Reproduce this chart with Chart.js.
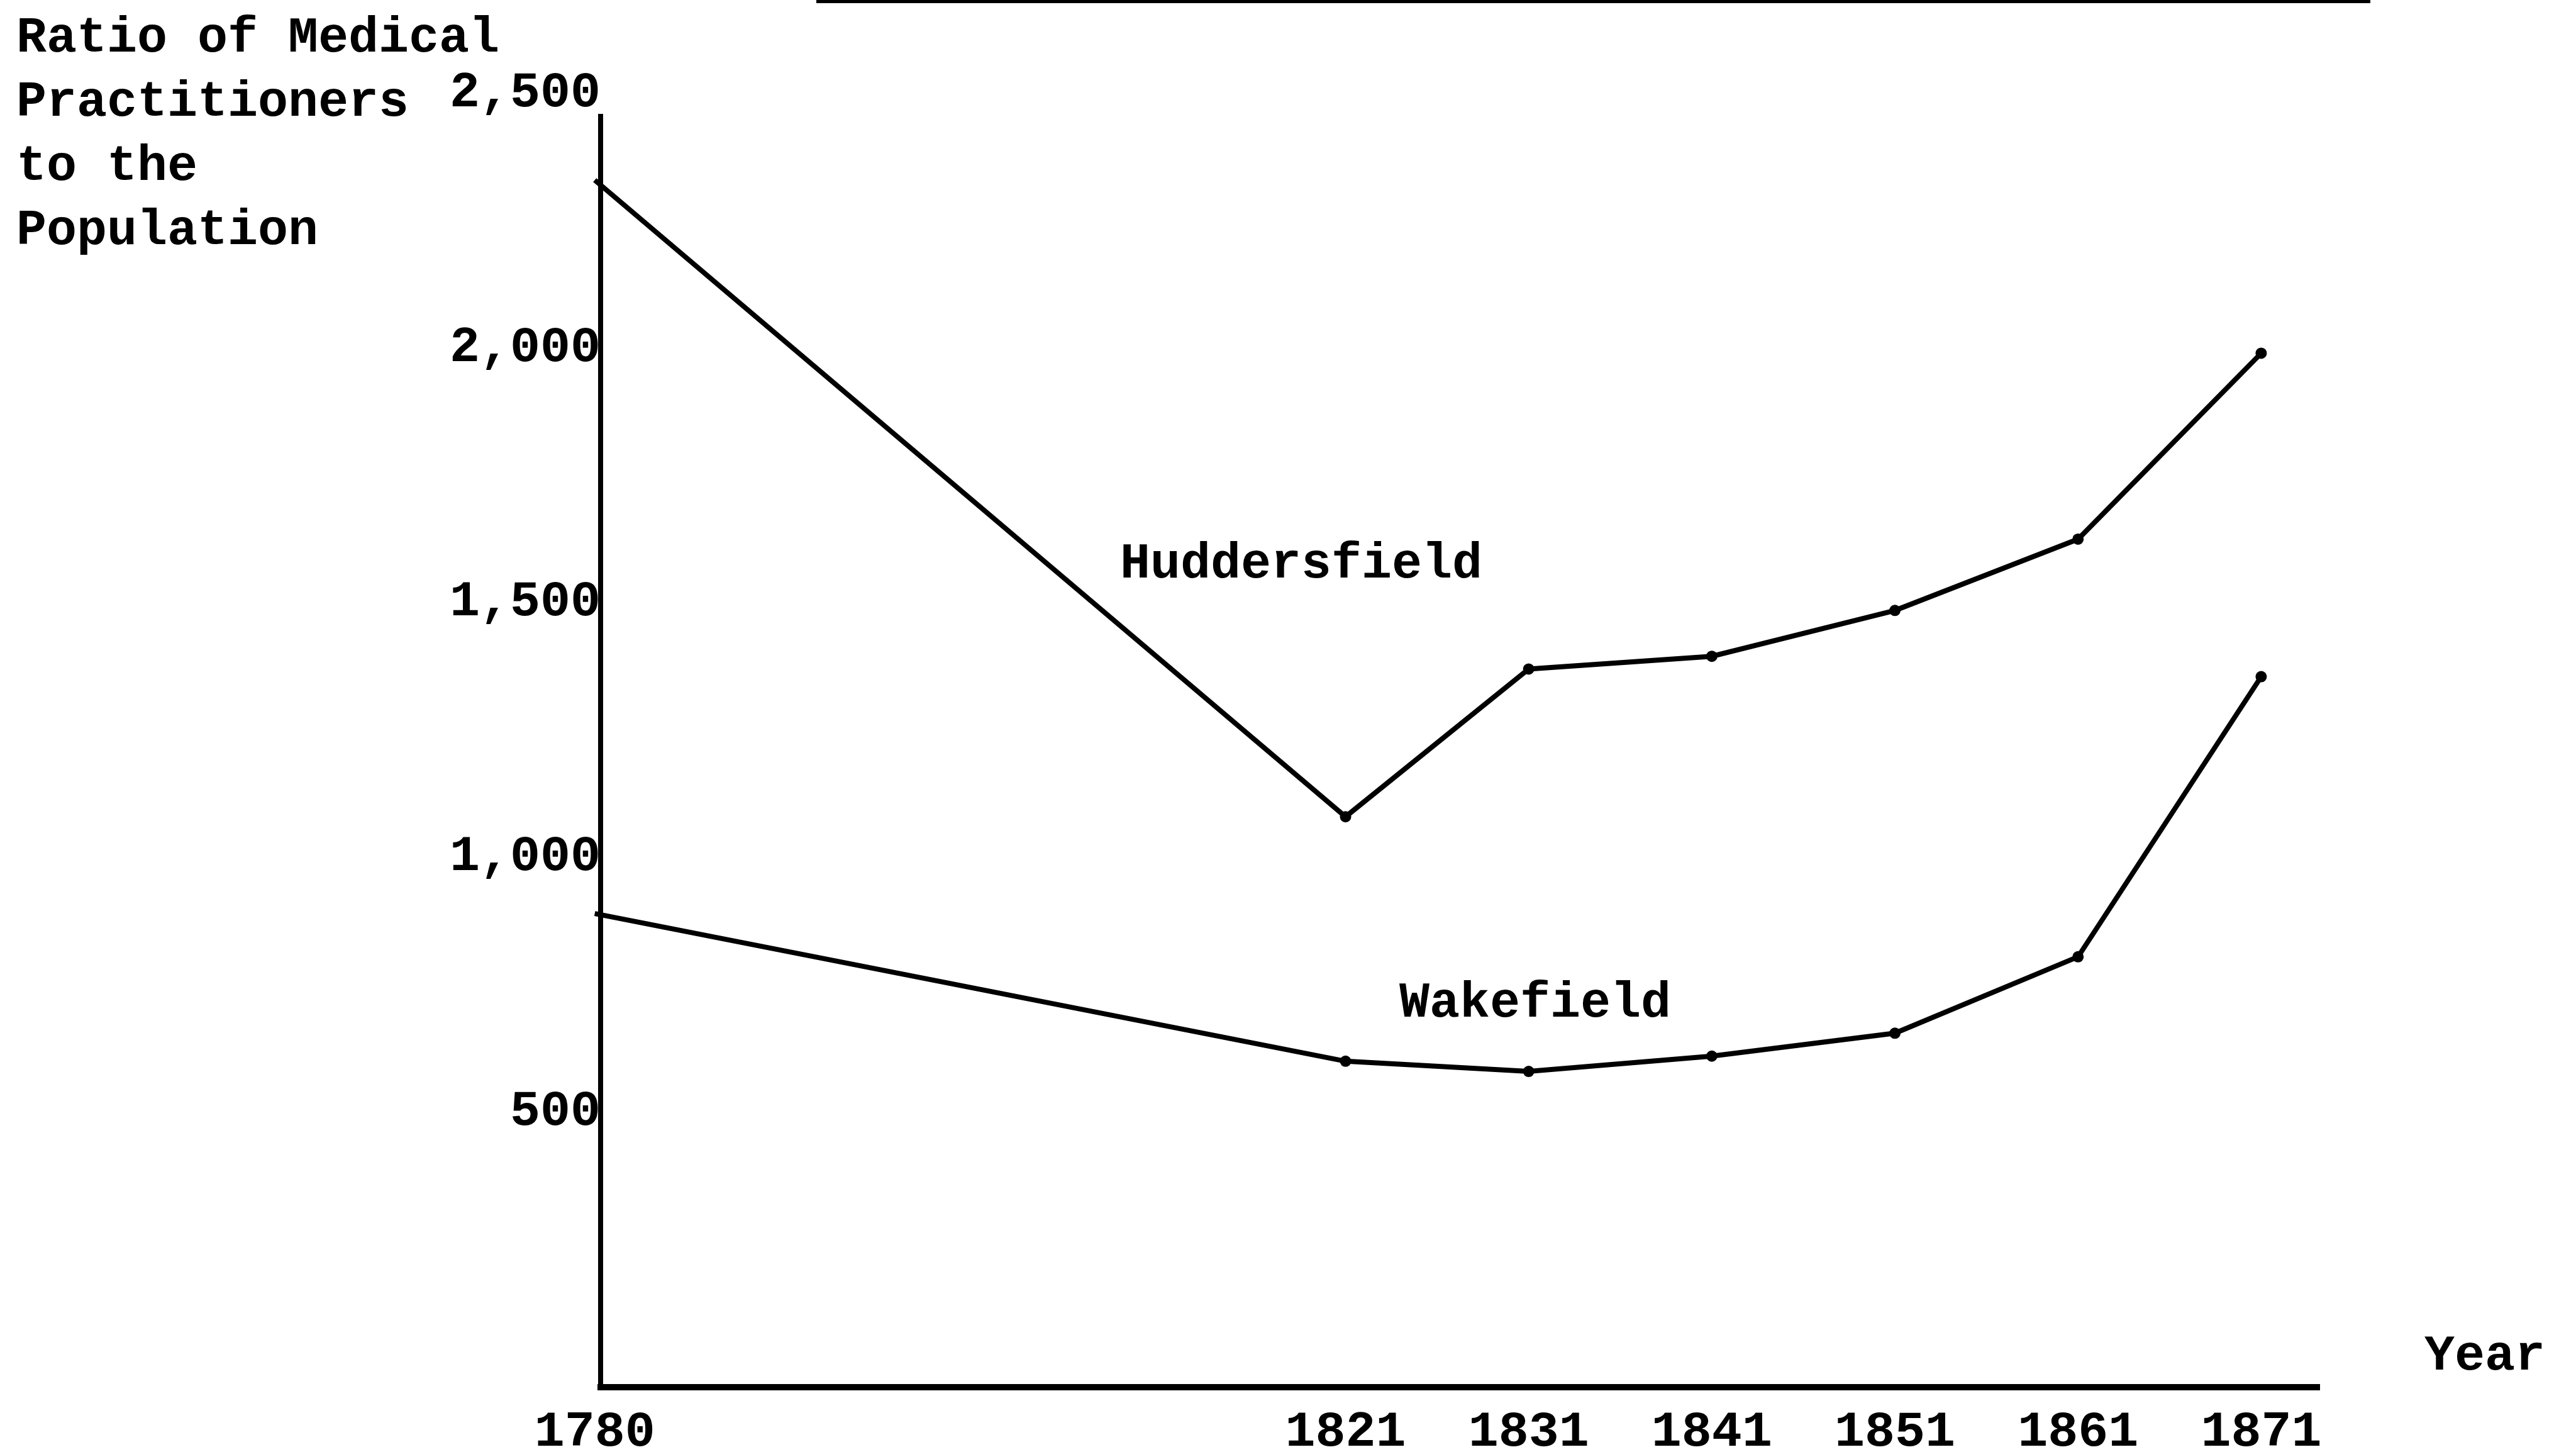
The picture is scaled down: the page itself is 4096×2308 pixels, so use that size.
<!DOCTYPE html>
<html>
<head>
<meta charset="utf-8">
<script src="https://cdn.jsdelivr.net/npm/chart.js@4.4.1/dist/chart.umd.min.js"></script>
<style>
    html, body { margin: 0; padding: 0; background: #fff; }
    canvas { display: block; }
</style>
</head>
<body>
<canvas id="chart" width="4096" height="2308"></canvas>
<script>
// --- Data ---
const years = [1780, 1821, 1831, 1841, 1851, 1861, 1871];
const huddersfield = [2330, 1080, 1370, 1395, 1485, 1625, 1990];
const wakefield = [890, 600, 580, 610, 655, 805, 1355];
const yTicks = [500, 1000, 1500, 2000, 2500];
const yTitle = ['Ratio of Medical', 'Practitioners', 'to the', 'Population'];
// -----------------------------------

const FONT = 'bold 80px "Liberation Mono", "Courier New", monospace';
const toPoints = vals => years.map((y, i) => ({ x: y, y: vals[i] }));

// typed labels that sit on the page rather than on an axis
const pageText = {
    id: 'pageText',
    afterDraw(chart) {
        const ctx = chart.ctx;
        ctx.save();
        ctx.fillStyle = '#000';
        ctx.font = FONT;
        ctx.textBaseline = 'middle';
        ctx.textAlign = 'left';
        yTitle.forEach((t, i) => ctx.fillText(t, 26, 62 + i * 102));
        ctx.fillText('Huddersfield', 1781, 898);
        ctx.fillText('Wakefield', 2225, 1596);
        ctx.fillText('Year', 3855, 2157);
        // rule left over at the top edge of the scan
        ctx.fillRect(1298, 0, 2471, 5);
        ctx.restore();
    }
};

const lineStyle = {
    borderColor: '#000',
    backgroundColor: '#000',
    borderWidth: 8,
    pointRadius: 9,
    pointBackgroundColor: '#000',
    pointBorderWidth: 0,
    tension: 0,
    clip: false
};

new Chart(document.getElementById('chart'), {
    type: 'line',
    data: {
        datasets: [
            { label: 'Huddersfield', data: toPoints(huddersfield), ...lineStyle },
            { label: 'Wakefield', data: toPoints(wakefield), ...lineStyle }
        ]
    },
    options: {
        responsive: false,
        animation: false,
        layout: { padding: { top: 185, right: 408, bottom: 0, left: 0 } },
        plugins: {
            legend: { display: false },
            tooltip: { enabled: false }
        },
        scales: {
            x: {
                type: 'linear',
                bounds: 'data',
                min: 1780.32,
                max: 1874.18,
                grid: { display: false, drawTicks: false },
                border: { display: true, color: '#000', width: 10 },
                afterBuildTicks: s => { s.ticks = years.map(v => ({ value: v })); },
                afterFit: s => { s.height = 103; },
                ticks: {
                    autoSkip: false,
                    maxRotation: 0,
                    minRotation: 0,
                    padding: 25,
                    color: '#000',
                    font: { family: '"Liberation Mono", monospace', size: 80, weight: 'bold' },
                    callback: v => String(v)
                }
            },
            y: {
                type: 'linear',
                bounds: 'data',
                min: -40,
                max: 2455,
                grid: { display: false, drawTicks: false },
                border: { display: true, color: '#000', width: 8 },
                afterBuildTicks: s => { s.ticks = yTicks.map(v => ({ value: v })); },
                afterFit: s => { s.width = 955; },
                ticks: {
                    padding: 0,
                    color: '#000',
                    font: { family: '"Liberation Mono", monospace', size: 80, weight: 'bold' },
                    callback: v => v.toLocaleString('en-US')
                }
            }
        }
    },
    plugins: [pageText]
});
</script>
</body>
</html>
